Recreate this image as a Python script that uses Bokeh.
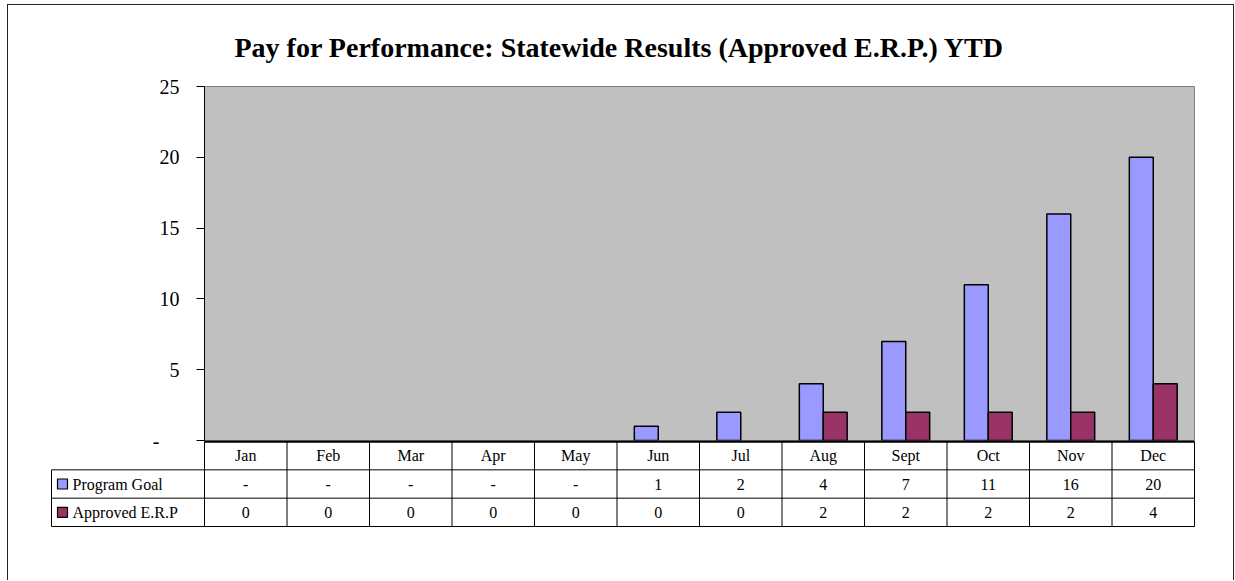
from bokeh.plotting import figure
from bokeh.models import ColumnDataSource, FactorRange, Range1d, FixedTicker
from bokeh.transform import dodge
from bokeh.layouts import column
from bokeh.core.properties import value
from bokeh.embed import file_html
from bokeh.resources import INLINE

# ---- data ----
months = ["Jan", "Feb", "Mar", "Apr", "May", "Jun", "Jul", "Aug", "Sept", "Oct", "Nov", "Dec"]
program_goal = [0, 0, 0, 0, 0, 1, 2, 4, 7, 11, 16, 20]
approved_erp = [0, 0, 0, 0, 0, 0, 0, 2, 2, 2, 2, 4]
series_names = ["Program Goal", "Approved E.R.P"]
series_colors = ["#9999FF", "#993366"]
y_ticks = [0, 5, 10, 15, 20, 25]
title_text = "Pay for Performance: Statewide Results (Approved E.R.P.) YTD"

FONT = "Liberation Serif"
W = 1225
COL_PX = 82.5      # width of one month column
LEG_PX = 153       # width of the legend column of the table
PAD_PX = 2
OVERLAP = 20
n = len(months)

# ---- chart ----
pA = figure(width=W, height=435 + OVERLAP,
            x_range=FactorRange(factors=months, range_padding=0, factor_padding=0),
            y_range=Range1d(0, y_ticks[-1]),
            x_axis_location=None, toolbar_location=None, output_backend="svg",
            min_border_left=196, min_border_right=39, min_border_top=79,
            min_border_bottom=OVERLAP, title=title_text)
pA.title.align = "left"
pA.title.offset = 30
pA.title.text_font = FONT
pA.title.text_font_size = "28px"
pA.title.text_font_style = "bold"
pA.title.text_color = "black"
pA.title.standoff = 48

pA.background_fill_color = "#C0C0C0"
pA.border_fill_color = "white"
pA.outline_line_color = "#808080"
pA.outline_line_width = 1
pA.xgrid.visible = False
pA.ygrid.visible = False

src = ColumnDataSource(dict(month=months, goal=program_goal, approved=approved_erp,
                            goal_la=[0 if v == 0 else 1 for v in program_goal],
                            appr_la=[0 if v == 0 else 1 for v in approved_erp]))
pA.vbar(x=dodge("month", -0.145, range=pA.x_range), top="goal", width=0.29, source=src,
        fill_color=series_colors[0], line_color="black", line_width=1.5, line_alpha="goal_la")
pA.vbar(x=dodge("month", 0.145, range=pA.x_range), top="approved", width=0.29, source=src,
        fill_color=series_colors[1], line_color="black", line_width=1.5, line_alpha="appr_la")

ya = pA.yaxis[0]
ya.ticker = FixedTicker(ticks=y_ticks)
ya.major_label_overrides = {0: "-\u00a0\u00a0\u00a0\u00a0"}
ya.major_label_text_font = FONT
ya.major_label_text_font_size = "20px"
ya.major_label_text_color = "black"
ya.major_label_standoff = 17
ya.major_tick_out = 8
ya.major_tick_in = 0
ya.minor_tick_out = 0
ya.minor_tick_in = 0
ya.axis_line_color = "black"
ya.major_tick_line_color = "black"

# ---- data table ----
x0 = -LEG_PX / COL_PX
pad = PAD_PX / COL_PX
pB = figure(width=W, height=140,
            x_range=Range1d(x0 - pad, n + pad), y_range=Range1d(-0.07, 3.035),
            x_axis_location=None, y_axis_location=None, toolbar_location=None,
            output_backend="svg",
            min_border_left=41, min_border_right=37, min_border_top=0, min_border_bottom=52)
pB.background_fill_color = None
pB.border_fill_color = None
pB.outline_line_color = None
pB.xgrid.visible = False
pB.ygrid.visible = False

# horizontal rules
pB.segment(x0=[0, x0, x0, x0], x1=[n, n, n, n], y0=[3, 2, 1, 0], y1=[3, 2, 1, 0],
           line_color="black", line_width=[2.5, 1, 1, 1])
# vertical rules
vx = list(range(n + 1)) + [x0]
pB.segment(x0=vx, x1=vx, y0=[0] * len(vx), y1=[3] * (n + 1) + [2],
           line_color="black", line_width=1)

centers = [i + 0.5 for i in range(n)]
goal_text = ["-" if v == 0 else str(v) for v in program_goal]
appr_text = [str(v) for v in approved_erp]
tsrc = ColumnDataSource(dict(x=centers * 3, y=[2.5] * n + [1.5] * n + [0.5] * n,
                             t=months + goal_text + appr_text))
pB.text(x="x", y="y", text="t", source=tsrc, text_font=value(FONT),
        text_font_size=value("16px"), text_color="black",
        text_align="center", text_baseline="middle")

# legend keys + names
pB.scatter(x=[x0 + 11 / COL_PX] * 2, y=[1.5, 0.5], marker="square", size=10,
           fill_color=series_colors, line_color="black", line_width=1.2)
pB.text(x=[x0 + 21 / COL_PX] * 2, y=[1.5, 0.5], text=series_names, text_font=value(FONT),
        text_font_size=value("16px"), text_color="black",
        text_align="left", text_baseline="middle")

BORDER = "1.5px solid #222"
rootA = column(pA, styles={"margin-left": "7px", "margin-top": "4px",
                           "border-top": BORDER, "border-left": BORDER, "border-right": BORDER})
rootB = column(pB, styles={"margin-left": "7px", "margin-top": f"-{OVERLAP}px",
                           "border-left": BORDER, "border-right": BORDER})

open("out.html", "w").write(file_html([rootA, rootB], INLINE))
